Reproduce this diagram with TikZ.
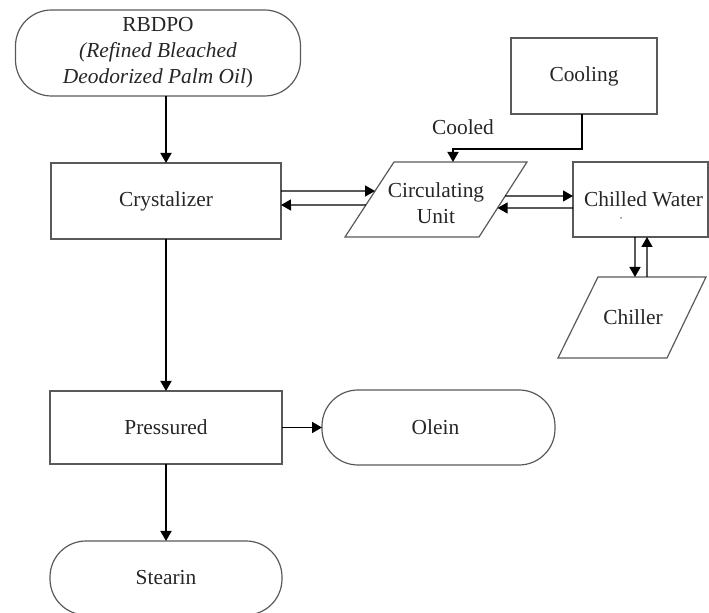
\documentclass[tikz,border=0pt]{standalone}
\usepackage{fontspec}
\setmainfont{Liberation Serif}
\usetikzlibrary{arrows.meta,calc}
\begin{document}
\begin{tikzpicture}[x=0.5pt,y=-0.5pt,
  every node/.style={font=\fontsize{10.7}{13}\selectfont, text=black!85},
  box/.style={draw=black!65, line width=0.6pt, inner sep=0pt, outer sep=0pt, align=center},
  term/.style={box, rounded corners=18pt},
  para/.style={draw=black!65, line width=0.6pt},
  arr/.style={draw=black, line width=0.7pt, -{Triangle[length=5pt,width=5.5pt]}},
  mainarr/.style={arr, line width=0.9pt},
  txt/.style={inner sep=0pt, align=center}]
\useasboundingbox (0,0) rectangle (709,613);
% nodes
\node[term, minimum width=142.5pt, minimum height=43pt] (rbdpo) at (158,53)
  {RBDPO\\\textit{(Refined Bleached}\\\textit{Deodorized Palm Oil})};
\node[box, minimum width=115pt, minimum height=38pt] (cryst) at (166,201) {Crystalizer};
\node[box, minimum width=116pt, minimum height=36.5pt] (press) at (166,427.5) {Pressured};
\node[term, minimum width=116.5pt, minimum height=37.5pt] (olein) at (438.5,427.5) {\hspace*{-3pt}Olein};
\node[term, minimum width=116pt, minimum height=37pt] (stearin) at (166,578) {Stearin};
\node[box, minimum width=73pt, minimum height=38pt] (cooling) at (584,76) {Cooling};
\node[box, minimum width=67.5pt, minimum height=37.5pt] (chilled) at (640.5,199.5) {\hspace*{3pt}Chilled Water};
\fill[black!50] (621,218) circle (0.5pt);
% circulating unit parallelogram
\coordinate (c1) at (345,237);
\coordinate (c2) at (394,162);
\coordinate (c3) at (527,162);
\coordinate (c4) at (479,237);
\draw[para] (c1) -- (c2) -- (c3) -- (c4) -- cycle;
\node[txt] (circ) at (436,203) {Circulating\\Unit};
% chiller parallelogram
\coordinate (h1) at (558,358);
\coordinate (h2) at (598,277);
\coordinate (h3) at (706,277);
\coordinate (h4) at (667,358);
\draw[para] (h1) -- (h2) -- (h3) -- (h4) -- cycle;
\node[txt] (chiller) at (633,317) {Chiller};
% edge points
\coordinate (cinL1) at ($(c1)!0.6133!(c2)$);
\coordinate (cinL2) at ($(c1)!0.4267!(c2)$);
\coordinate (cinR1) at ($(c4)!0.5467!(c3)$);
\coordinate (cinR2) at ($(c4)!0.3867!(c3)$);
\coordinate (ctop) at ($(c2)!0.4436!(c3)$);
\coordinate (htopA) at ($(h2)!0.3426!(h3)$);
\coordinate (htopB) at ($(h2)!0.4537!(h3)$);
% connectors
\draw[mainarr] ([xshift=4pt]rbdpo.south) -- (cryst.north);
\draw[mainarr] (cryst.south) -- (press.north);
\draw[mainarr] (press.east) -- (olein.west);
\draw[mainarr] (press.south) -- (stearin.north);
\draw[arr] ([yshift=5pt]cryst.east) -- (cinL1);
\draw[arr] (cinL2) -- ([yshift=-2pt]cryst.east);
\draw[arr] (cinR1) -- ([yshift=1.75pt]chilled.west);
\draw[arr] ([yshift=-4.25pt]chilled.west) -- (cinR2);
\draw[arr] ([xshift=-2.75pt]chilled.south) -- (htopA);
\draw[arr] (htopB) -- ([xshift=3.25pt]chilled.south);
\draw[mainarr] ([xshift=-1pt]cooling.south) |- ($(ctop)+(0,-13)$) -- (ctop);
\node[txt] (cooled) at (463,127) {Cooled};
\end{tikzpicture}
\end{document}
